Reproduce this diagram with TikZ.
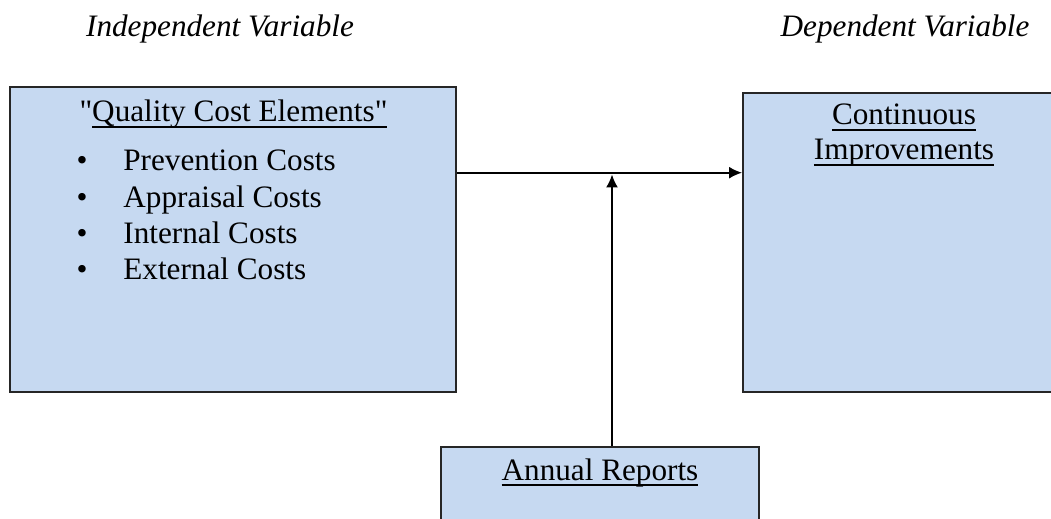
\documentclass[tikz,border=0pt]{standalone}
\usepackage{fontspec}
\setmainfont{Liberation Serif}
\usetikzlibrary{arrows.meta}
\definecolor{boxfill}{HTML}{C6D9F1}
\definecolor{boxline}{HTML}{262626}
\newsavebox\ulbox
\newcommand\ulin[1]{\sbox\ulbox{#1}\rlap{\rule[-3.2pt]{\wd\ulbox}{1pt}}\usebox\ulbox}
\tikzset{
  varbox/.style={draw=boxline, line width=1pt, fill=boxfill, rectangle, inner sep=0pt},
  txt/.style={font=\fontsize{15.6}{18}\selectfont, inner sep=0pt, anchor=base},
  headtxt/.style={txt, font=\fontsize{15.6}{18}\selectfont\itshape},
  itemtxt/.style={txt, anchor=base west},
  conn/.style={draw=black, line width=0.85pt, -{Latex[length=6.5pt,width=6pt]}}
}
\begin{document}
\begin{tikzpicture}[x=0.5pt,y=-0.5pt]
\useasboundingbox (0,0) rectangle (1051,519);
\clip (0,0) rectangle (1051,519);
% boxes
\node[varbox, minimum width=223pt, minimum height=152.5pt] (qce) at (233,239.5) {};
\node[varbox, minimum width=161pt, minimum height=149.5pt] (ci) at (904,242.5) {};
\node[varbox, minimum width=159pt, minimum height=56.5pt] (ar) at (600,503.5) {};
% headings
\node[headtxt] (indep) at (220,37) {Independent Variable};
\node[headtxt] (dep) at (905,37) {Dependent Variable};
% left box text
\node[txt] (qcetitle) at (233.5,121.7) {\textquotedbl\ulin{Quality Cost Elements\textquotedbl}};
\node[txt] (b1) at (82,170.7) {•};
\node[itemtxt] (i1) at (123,170.7) {Prevention Costs};
\node[txt] (b2) at (82,207) {•};
\node[itemtxt] (i2) at (123,207) {Appraisal Costs};
\node[txt] (b3) at (82,243) {•};
\node[itemtxt] (i3) at (123,243) {Internal Costs};
\node[txt] (b4) at (82,279) {•};
\node[itemtxt] (i4) at (123,279) {External Costs};
% right box text
\node[txt] (ci1) at (904,125) {\ulin{Continuous}};
\node[txt] (ci2) at (904,160) {\ulin{Improvements}};
% bottom box text
\node[txt] (artitle) at (600,480) {\ulin{Annual Reports}};
% connectors
\coordinate (j) at (612,172.7);
\coordinate (jb) at (612,174.5);
\draw[conn] (qce.east |- j) -- (ci.west |- j);
\draw[conn] (ar.north -| j) -- (jb);
\end{tikzpicture}
\end{document}
